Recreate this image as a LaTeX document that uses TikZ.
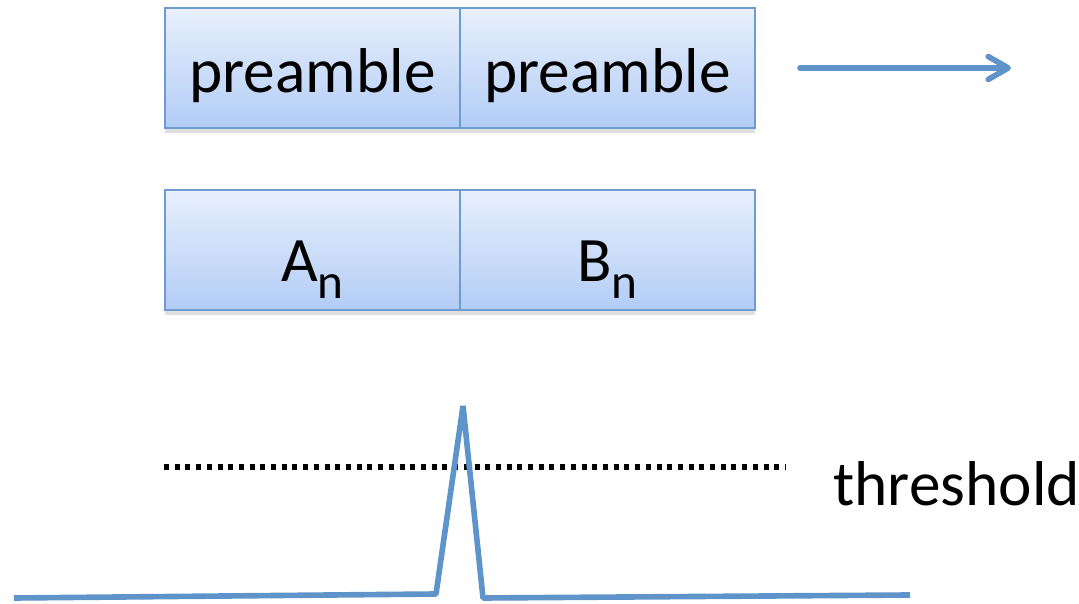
\documentclass[tikz,border=0pt]{standalone}
\usepackage{fontspec}
\setmainfont{Carlito}
\usetikzlibrary{arrows.meta,shadows}
\definecolor{boxtop}{HTML}{E8F0FC}
\definecolor{boxbot}{HTML}{B2CCF6}
\definecolor{boxline}{HTML}{6F9BD1}
\definecolor{sigblue}{HTML}{5F94CA}
\newcommand{\subn}{\raisebox{-0.28em}{\fontsize{14}{16}\selectfont n}}
\begin{document}
\begin{tikzpicture}[x=0.01cm, y=-0.01cm,
  every node/.style={font=\fontsize{18}{21}\selectfont},
  field/.style={draw=boxline, line width=0.6pt, top color=boxtop, bottom color=boxbot,
    minimum width=2.95cm, minimum height=1.2cm, inner sep=0pt,
    text height=0.53cm, text depth=0.05cm,
    drop shadow={shadow xshift=0pt, shadow yshift=-0.05cm, opacity=0.25}},
  sig/.style={draw=sigblue, line width=1.6pt, line join=bevel}]
  \useasboundingbox (0,0) rectangle (1079,604);
  % two frames, preamble on top, payload below
  \node[field] (pre1) at (312.5,68) {preamble};
  \node[field] (pre2) at (607.5,68) {preamble};
  \node[field, text height=0.67cm] (an) at (312.5,250) {A\subn};
  \node[field, text height=0.67cm] (bn) at (607.5,250) {B\subn};
  \coordinate (arrA) at (800,68);
  \coordinate (arrB) at (1011,68);
  \draw[sig, line cap=round, -{Straight Barb[length=0.2cm, width=0.23cm, round]}] (arrA) -- (arrB);
  % correlation output
  \coordinate (thA) at (164,467);
  \coordinate (thB) at (786,467);
  \draw[line width=1.5pt, dash pattern=on 0.05cm off 0.057cm] (thA) -- (thB);
  \node[anchor=west] (th) at (821,484) {threshold};
  \draw[sig] (14,598) -- (436,594) -- (463,406) -- (483,598) -- (910,595);
\end{tikzpicture}
\end{document}
